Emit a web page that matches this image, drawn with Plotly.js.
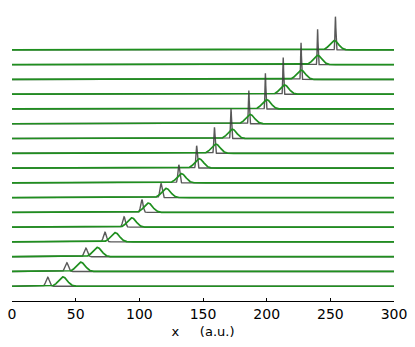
<!DOCTYPE html>
<html>
<head>
<meta charset="utf-8">
<script src="https://cdn.plot.ly/plotly-3.0.1.min.js"></script>
<style>html,body{margin:0;padding:0;background:#fff;}#chart{width:415px;height:347px;}</style>
</head>
<body>
<div id="chart"></div>
<script>
// Row index 0 = bottom row, 16 = top row; baselines are offset by one row unit each
var rows = [0,1,2,3,4,5,6,7,8,9,10,11,12,13,14,15,16];
// Narrow (dark) peak per row: centre (a.u.), height (row units), width sigma (a.u.)
var darkCenter = [28, 43, 58, 73, 88, 102, 117, 131, 145, 159, 172, 186, 199, 213, 227, 240, 254];
var darkHeight = [0.61, 0.59, 0.59, 0.66, 0.70, 0.86, 0.97, 1.22, 1.51, 1.76, 2.01, 2.25, 2.41, 2.48, 2.48, 2.39, 2.25];
var darkSigma  = [1.3, 1.25, 1.2, 1.15, 1.05, 0.95, 0.85, 0.7, 0.55, 0.45, 0.4, 0.36, 0.33, 0.32, 0.32, 0.33, 0.34];
// Broad (green) peak per row
var greenCenter = [40, 54, 67, 81, 94, 107, 121, 133, 147, 160, 173, 187, 200, 214, 227, 240, 253];
var greenHeight = [0.63, 0.63, 0.63, 0.63, 0.63, 0.63, 0.63, 0.63, 0.63, 0.63, 0.63, 0.63, 0.63, 0.63, 0.63, 0.63, 0.63];
var greenSigma  = [3.4, 3.4, 3.4, 3.4, 3.4, 3.4, 3.4, 3.4, 3.4, 3.4, 3.4, 3.4, 3.4, 3.4, 3.4, 3.4, 3.4];
var xTicks = [0, 50, 100, 150, 200, 250, 300];
var xMin = 0, xMax = 300, xStep = 0.1;

function profile(offset, c, h, s) {
  var xs = [], ys = [];
  var n = Math.round((xMax - xMin) / xStep);
  for (var k = 0; k <= n; k++) {
    var x = xMin + k * xStep;
    xs.push(x);
    ys.push(offset + h * Math.exp(-0.5 * Math.pow((x - c) / s, 2)));
  }
  return {x: xs, y: ys};
}

var traces = [];
for (var j = rows.length - 1; j >= 0; j--) {
  var i = rows[j];
  var d = profile(i, darkCenter[i], darkHeight[i], darkSigma[i]);
  traces.push({x: d.x, y: d.y, type: 'scatter', mode: 'lines',
    line: {color: 'rgba(60,60,60,0.85)', width: 1.4}, hoverinfo: 'skip', showlegend: false});
  var g = profile(i, greenCenter[i], greenHeight[i], greenSigma[i]);
  traces.push({x: g.x, y: g.y, type: 'scatter', mode: 'lines',
    line: {color: '#1f8f1f', width: 1.7}, hoverinfo: 'skip', showlegend: false});
}

var layout = {
  width: 415, height: 347,
  margin: {l: 12, r: 21, t: 10, b: 46},
  paper_bgcolor: '#fff', plot_bgcolor: '#fff',
  font: {family: 'DejaVu Sans', color: '#000'},
  xaxis: {
    range: [xMin, xMax], tickvals: xTicks, ticktext: xTicks.map(String),
    showgrid: false, zeroline: false, showline: true, linecolor: '#000', linewidth: 1,
    ticks: 'inside', ticklen: 3, tickcolor: '#000', tickwidth: 1,
    tickfont: {size: 14, family: 'DejaVu Sans', color: '#000'},
    title: {text: 'x\u00a0\u00a0\u00a0\u00a0\u00a0(a.u.)', font: {size: 13, family: 'DejaVu Sans', color: '#000'}, standoff: 6},
    fixedrange: true
  },
  yaxis: {range: [-1, 18.7], visible: false, showgrid: false, zeroline: false, fixedrange: true}
};

Plotly.newPlot('chart', traces, layout, {displayModeBar: false, staticPlot: true});
</script>
</body>
</html>
